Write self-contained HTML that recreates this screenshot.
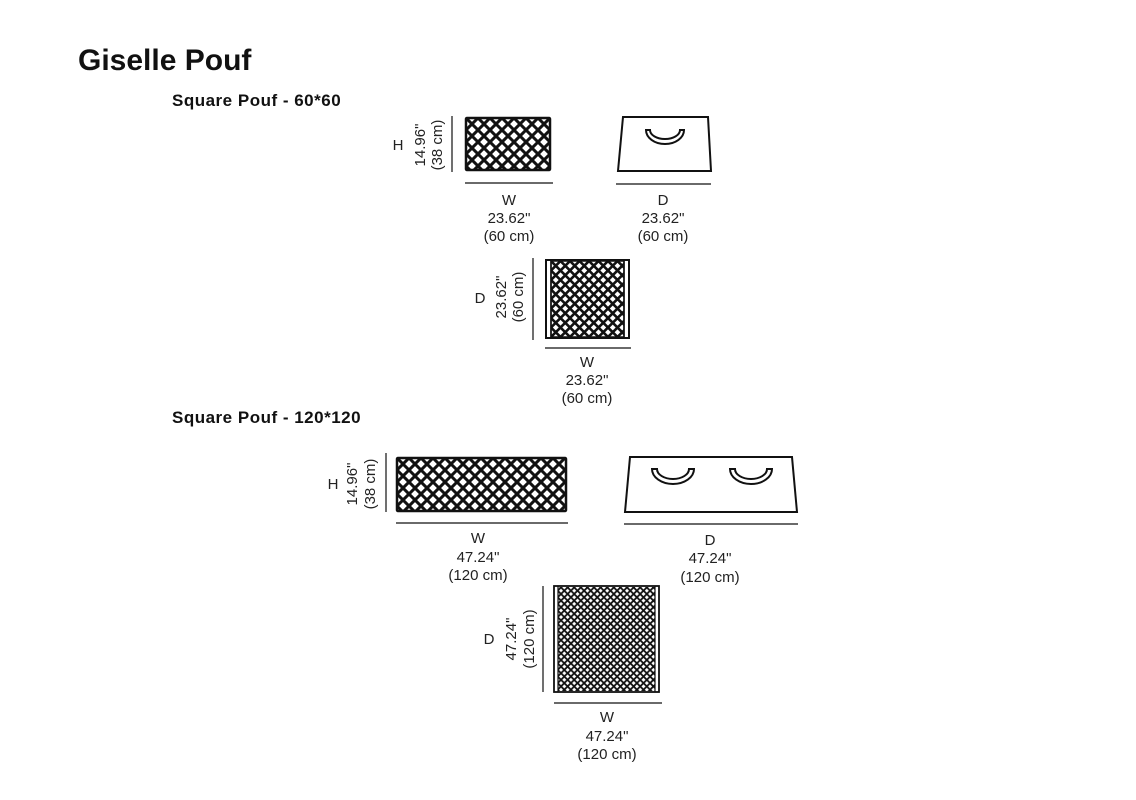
<!DOCTYPE html>
<html><head><meta charset="utf-8"><style>
html,body{margin:0;padding:0;background:#fff;}
svg{display:block;font-family:"Liberation Sans",sans-serif;}
</style></head><body>
<svg width="1136" height="800" viewBox="0 0 1136 800">
<defs>
<pattern id="p10" patternUnits="userSpaceOnUse" width="12" height="12" x="466" y="118">
<path d="M-1,-1 L13,13 M13,-1 L-1,13" stroke="#111" stroke-width="3" fill="none"/>
</pattern>
<pattern id="p10b" patternUnits="userSpaceOnUse" width="12" height="12" x="397" y="458">
<path d="M-1,-1 L13,13 M13,-1 L-1,13" stroke="#111" stroke-width="3" fill="none"/>
</pattern>
<pattern id="p8" patternUnits="userSpaceOnUse" width="9.5" height="9.5" x="551" y="261">
<path d="M-1,-1 L10.5,10.5 M10.5,-1 L-1,10.5" stroke="#111" stroke-width="2.6" fill="none"/>
</pattern>
<pattern id="p6" patternUnits="userSpaceOnUse" width="6.6" height="6.6">
<path d="M-1,-1 L7.6,7.6 M7.6,-1 L-1,7.6" stroke="#111" stroke-width="1.8" fill="none"/>
</pattern>
</defs>
<text x="78" y="70" font-size="30" font-weight="bold" fill="#111">Giselle Pouf</text>
<text x="172" y="106" font-size="17" font-weight="bold" fill="#111" letter-spacing="0.5">Square Pouf - 60*60</text>
<text x="172" y="423" font-size="17" font-weight="bold" fill="#111" letter-spacing="0.5">Square Pouf - 120*120</text>

<g fill="#222" font-size="15" text-anchor="middle">
<rect x="466" y="118" width="84" height="52" fill="url(#p10)" stroke="#111" stroke-width="2.5" rx="1"/>
<line x1="452" y1="116" x2="452" y2="172" stroke="#111" stroke-width="1.2"/>
<line x1="465" y1="183" x2="553" y2="183" stroke="#111" stroke-width="1.2"/>
<text x="509" y="205">W</text><text x="509" y="223">23.62"</text><text x="509" y="241">(60 cm)</text>
<text x="398" y="150">H</text>
<text transform="translate(425,145) rotate(-90)">14.96"</text>
<text transform="translate(442,145) rotate(-90)">(38 cm)</text>
<path d="M623,117 L708,117 L711,171 L618,171 Z" fill="none" stroke="#111" stroke-width="2"/>
<path d="M646,130 A19,14 0 0 0 684,130 L680,130 A15,9 0 0 1 650,130 Z" fill="none" stroke="#111" stroke-width="2"/>
<line x1="616" y1="184" x2="711" y2="184" stroke="#111" stroke-width="1.2"/>
<text x="663" y="205">D</text><text x="663" y="223">23.62"</text><text x="663" y="241">(60 cm)</text>
<rect x="551" y="261" width="73" height="76" fill="url(#p8)" stroke="#111" stroke-width="1.5"/>
<rect x="546" y="260" width="83" height="78" fill="none" stroke="#111" stroke-width="2"/>
<line x1="551" y1="260" x2="551" y2="338" stroke="#111" stroke-width="1.5"/>
<line x1="624" y1="260" x2="624" y2="338" stroke="#111" stroke-width="1.5"/>
<line x1="533" y1="258" x2="533" y2="340" stroke="#111" stroke-width="1.2"/>
<line x1="545" y1="348" x2="631" y2="348" stroke="#111" stroke-width="1.2"/>
<text x="587" y="367">W</text><text x="587" y="385">23.62"</text><text x="587" y="403">(60 cm)</text>
<text x="480" y="303">D</text>
<text transform="translate(506,297) rotate(-90)">23.62"</text>
<text transform="translate(523,297) rotate(-90)">(60 cm)</text>

<rect x="397" y="458" width="169" height="53" fill="url(#p10b)" stroke="#111" stroke-width="2.5" rx="1"/>
<line x1="386" y1="453" x2="386" y2="512" stroke="#111" stroke-width="1.2"/>
<line x1="396" y1="523" x2="568" y2="523" stroke="#111" stroke-width="1.2"/>
<text x="478" y="543">W</text><text x="478" y="562">47.24"</text><text x="478" y="580">(120 cm)</text>
<text x="333" y="489">H</text>
<text transform="translate(357,484) rotate(-90)">14.96"</text>
<text transform="translate(375,484) rotate(-90)">(38 cm)</text>
<path d="M630,457 L792,457 L797,512 L625,512 Z" fill="none" stroke="#111" stroke-width="2"/>
<path d="M652,469 A21,15 0 0 0 694,469 L689,469 A16,10 0 0 1 657,469 Z" fill="none" stroke="#111" stroke-width="2"/>
<path d="M730,469 A21,15 0 0 0 772,469 L767,469 A16,10 0 0 1 735,469 Z" fill="none" stroke="#111" stroke-width="2"/>
<line x1="624" y1="524" x2="798" y2="524" stroke="#111" stroke-width="1.2"/>
<text x="710" y="545">D</text><text x="710" y="563">47.24"</text><text x="710" y="582">(120 cm)</text>
<rect x="558" y="587" width="97" height="104" fill="url(#p6)"/>
<rect x="554" y="586" width="105" height="106" fill="none" stroke="#111" stroke-width="1.8"/>
<line x1="558" y1="586" x2="558" y2="692" stroke="#111" stroke-width="1.2"/>
<line x1="655" y1="586" x2="655" y2="692" stroke="#111" stroke-width="1.2"/>
<line x1="543" y1="586" x2="543" y2="692" stroke="#111" stroke-width="1.2"/>
<line x1="554" y1="703" x2="662" y2="703" stroke="#111" stroke-width="1.2"/>
<text x="607" y="722">W</text><text x="607" y="741">47.24"</text><text x="607" y="759">(120 cm)</text>
<text x="489" y="644">D</text>
<text transform="translate(516,639) rotate(-90)">47.24"</text>
<text transform="translate(534,639) rotate(-90)">(120 cm)</text>
</g>
</svg>
</body></html>
